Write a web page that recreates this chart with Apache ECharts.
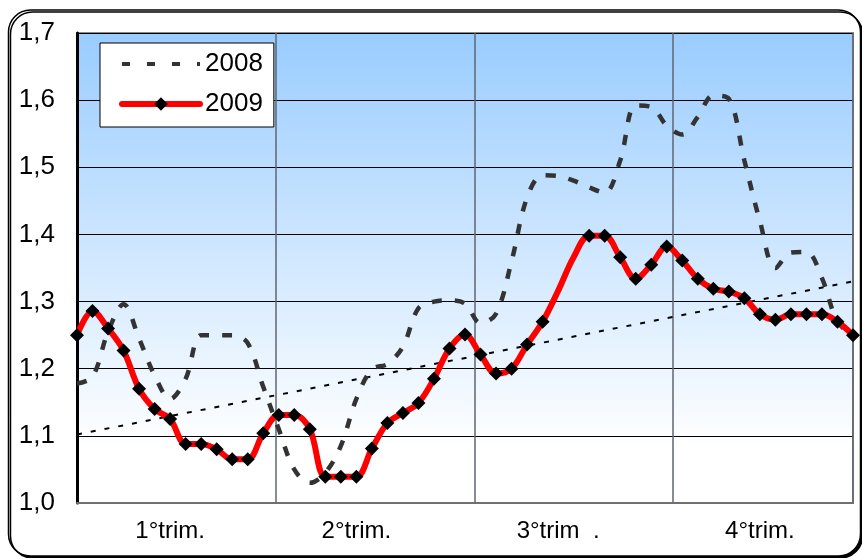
<!DOCTYPE html>
<html>
<head>
<meta charset="utf-8">
<script src="https://cdn.jsdelivr.net/npm/echarts@6/dist/echarts.min.js"></script>
<style>
  html, body { margin: 0; padding: 0; background: #ffffff; }
  #chart { width: 862px; height: 558px; }
</style>
</head>
<body>
<div id="chart"></div>
<script>
// Weekly categories (51 points)
const weeks = [1,2,3,4,5,6,7,8,9,10,11,12,13,14,15,16,17,18,19,20,21,22,23,24,25,26,
  27,28,29,30,31,32,33,34,35,36,37,38,39,40,41,42,43,44,45,46,47,48,49,50,51];

// Quarter labels and the week under which each is written
const quarterLabels = ['1°trim.', '2°trim.', '3°trim  .', '4°trim.'];
const quarterLabelWeeks = [7, 19, 32, 45];

// Series values
const s2008 = [1.178, 1.188, 1.255, 1.296, 1.245, 1.19, 1.155, 1.185, 1.25, 1.25,
  1.25, 1.238, 1.173, 1.11, 1.05, 1.03, 1.045, 1.085, 1.155, 1.199,
  1.207, 1.233, 1.29, 1.3, 1.302, 1.297, 1.268, 1.282, 1.36, 1.455,
  1.488, 1.487, 1.48, 1.47, 1.462, 1.51, 1.592, 1.59, 1.562, 1.549,
  1.575, 1.607, 1.602, 1.51, 1.42, 1.35, 1.373, 1.374, 1.335, 1.27, 1.25];

const s2009 = [1.25, 1.286, 1.26, 1.227, 1.17, 1.14, 1.125, 1.088, 1.088, 1.08,
  1.065, 1.065, 1.104, 1.131, 1.131, 1.11, 1.039, 1.039, 1.039, 1.081,
  1.119, 1.134, 1.149, 1.185, 1.23, 1.251, 1.221, 1.193, 1.2, 1.236,
  1.27, 1.316, 1.366, 1.398, 1.398, 1.366, 1.334, 1.355, 1.382, 1.361,
  1.334, 1.319, 1.315, 1.305, 1.281, 1.273, 1.281, 1.281, 1.281, 1.27, 1.25];

// Weeks of 2009 drawn without a marker
const s2009NoMarkerWeeks = [32, 33];

// Linear trend line end values (first and last week)
const trendEnds = [1.102, 1.330];

// Y axis range
const yMin = 1.0, yMax = 1.7, yStep = 0.1;

const FONT = '"Liberation Sans", Arial, sans-serif';

const chart = echarts.init(document.getElementById('chart'), null, { renderer: 'canvas' });

const cats = weeks.map(String);
const data2009 = s2009.map((v, i) =>
  s2009NoMarkerWeeks.indexOf(weeks[i]) >= 0 ? { value: v, symbol: 'none' } : v);
const trendData = [[0, trendEnds[0]], [weeks.length - 1, trendEnds[1]]];

chart.setOption({
  animation: false,
  graphic: [{
    type: 'rect',
    z: -10,
    silent: true,
    shape: { x: 8.5, y: 10, width: 852, height: 546, r: 22 },
    style: {
      fill: '#ffffff', stroke: '#000000', lineWidth: 1.5,
      shadowColor: '#000000', shadowOffsetX: 2, shadowOffsetY: 2, shadowBlur: 0
    }
  }],
  grid: {
    left: 77, top: 33, right: 9, bottom: 55,
    show: true,
    borderColor: '#8a8a8a', borderWidth: 2,
    backgroundColor: {
      type: 'linear', x: 0, y: 0, x2: 0, y2: 1,
      colorStops: [
        { offset: 0, color: '#99CCFF' },
        { offset: 0.88, color: '#FFFFFF' },
        { offset: 1, color: '#FFFFFF' }
      ]
    }
  },
  legend: {
    data: [
      { name: '2008', itemStyle: { color: 'rgba(0,0,0,0)', borderWidth: 0, opacity: 0 },
        lineStyle: { color: '#333333', width: 4, type: [8, 17] } },
      { name: '2009', lineStyle: { color: '#FF0000', width: 6, cap: 'round' } }
    ],
    orient: 'vertical',
    left: 100, top: 43,
    backgroundColor: '#ffffff',
    borderColor: '#000000', borderWidth: 1,
    borderRadius: 0,
    padding: [8, 11, 10, 19],
    itemWidth: 78, itemHeight: 17, itemGap: 14,
    textStyle: { fontFamily: FONT, fontSize: 26, lineHeight: 26, color: '#000000' },
    selectedMode: false
  },
  xAxis: [{
    type: 'category',
    data: cats,
    boundaryGap: false,
    axisLine: { show: true, lineStyle: { color: '#707070', width: 2 } },
    axisTick: { show: false },
    splitLine: { show: false },
    axisLabel: {
      interval: 0,
      margin: 16,
      fontFamily: FONT, fontSize: 24, color: '#000000',
      formatter: function (v) {
        const k = quarterLabelWeeks.indexOf(Number(v));
        return k >= 0 ? quarterLabels[k] : '';
      }
    }
  }, {
    type: 'value',
    min: 0, max: weeks.length - 1, interval: 12.8,
    position: 'bottom',
    axisLine: { show: false },
    axisTick: { show: false },
    axisLabel: { show: false },
    splitLine: { show: true, lineStyle: { color: '#5f6670', width: 1.5 } }
  }],
  yAxis: {
    type: 'value',
    min: yMin, max: yMax, interval: yStep,
    axisLine: { show: true, lineStyle: { color: '#000000', width: 3 } },
    axisTick: { show: false },
    splitLine: { show: true, lineStyle: { color: '#000000', width: 1 } },
    axisLabel: {
      margin: 22,
      fontFamily: FONT, fontSize: 26, color: '#000000',
      formatter: function (v) { return v.toFixed(1).replace('.', ','); }
    }
  },
  series: [{
    name: 'trend',
    type: 'line',
    data: trendData,
    symbol: 'none',
    lineStyle: { color: '#000000', width: 2, type: [5, 9] },
    silent: true,
    z: 1
  }, {
    name: '2008',
    type: 'line',
    data: s2008,
    smooth: 0.35,
    symbol: 'none',
    lineStyle: { color: '#333333', width: 4.5, type: [10, 13] },
    itemStyle: { color: '#333333' },
    z: 2
  }, {
    name: '2009',
    type: 'line',
    data: data2009,
    smooth: 0.35,
    symbol: 'diamond',
    symbolSize: 14,
    showAllSymbol: true,
    lineStyle: { color: '#FF0000', width: 6, cap: 'round' },
    itemStyle: { color: '#000000', borderWidth: 0 },
    z: 3
  }]
});
</script>
</body>
</html>
